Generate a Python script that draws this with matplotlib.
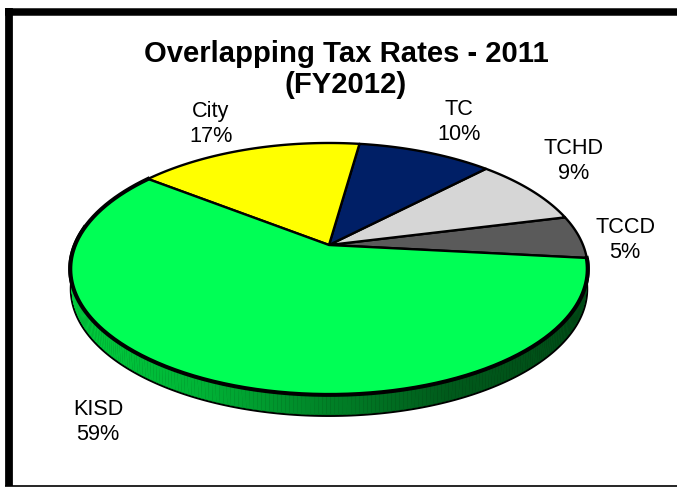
import numpy as np
import matplotlib
matplotlib.use('Agg')
import matplotlib.pyplot as plt
from matplotlib.patches import Rectangle

plt.rcParams['font.family'] = ['Liberation Sans', 'DejaVu Sans']

# values, counter clockwise from the right hand edge of the pie
categories = ['TCCD', 'TCHD', 'TC', 'City', 'KISD']
shares = [5.49, 8.8, 10.1, 16.9, 58.71]
colors = ['#5a5a5a', '#d6d6d6', '#001f66', '#ffff00', '#00ff55']
label_x = [625, 574, 459, 211, 98]
label_y = [240, 161, 122, 124, 422]

title = 'Overlapping Tax Rates - 2011\n(FY2012)'

W, H = 677, 487

# pie placement, pixels
cx, cy = 329, 245
rx, ry = 254, 121.4
persp = 0.19
depth = 20
start = -6


def project(deg):
    # circle seen in perspective, so the apex sits above the ellipse centre
    t = np.radians(deg)
    k = 1 + persp * np.sin(t)
    return cx + rx * np.cos(t) / k, cy - ry * np.sin(t) / k


fig = plt.figure(figsize=(W / 100, H / 100), dpi=100)
ax = fig.add_axes([0, 0, 1, 1])
ax.set_xlim(0, W)
ax.set_ylim(H, 0)
ax.axis('off')

# frame, runs off the image on the right
ax.add_patch(Rectangle((9, 11.5), W, 474.5, fc='white', ec='black', lw=0))
ax.plot([9, 9], [8, 486], color='black', lw=5.6, solid_capstyle='butt')
ax.plot([5, W], [11.5, 11.5], color='black', lw=5.4, solid_capstyle='butt')
ax.plot([5, W], [486, 486], color='black', lw=1.2, solid_capstyle='butt')

# side wall below the front of the pie
wall = np.linspace(start, -187, 241)
xs, ys = project(wall)
low_x = cx + (xs - cx) * 0.994
low_y = ys + depth
ax.fill(np.r_[xs, low_x[::-1]], np.r_[ys, low_y[::-1]], color='black', lw=3.0, zorder=2)
stops_x = [70, 200, 329, 450, 588]
stops_g = [205, 180, 130, 90, 75]
for i in range(len(wall) - 1):
    g = np.interp(xs[i], stops_x, stops_g) / 255
    ax.fill([xs[i], xs[i + 1], low_x[i + 1], low_x[i]],
            [ys[i], ys[i + 1], low_y[i + 1], low_y[i]],
            color=(0.0, g, g * 0.3), lw=0.3, zorder=3)

# top face
angle = start
for share, col in zip(shares, colors):
    sweep = share * 3.6
    a = np.linspace(angle, angle + sweep, 120)
    px, py = project(a)
    ax.fill(np.r_[cx, px], np.r_[cy, py], facecolor=col, edgecolor='black',
            lw=1.7, joinstyle='round', zorder=4)
    angle += sweep

# edge of the pie again so the green outline stays heavy at the front
px, py = project(np.linspace(start - shares[-1] * 3.6, start, 300))
ax.plot(px, py, color='black', lw=2.9, zorder=5)

ax.text(346, 69.5, title, ha='center', va='center', fontsize=21.1, fontweight='bold',
        linespacing=1.13, color='black', zorder=6)

for name, share, x, y in zip(categories, shares, label_x, label_y):
    ax.text(x, y, f'{name}\n{share:.0f}%', ha='center', va='center', fontsize=15.6,
            linespacing=1.25, color='black', zorder=6)

fig.savefig('out.png', dpi=100, facecolor='white')
